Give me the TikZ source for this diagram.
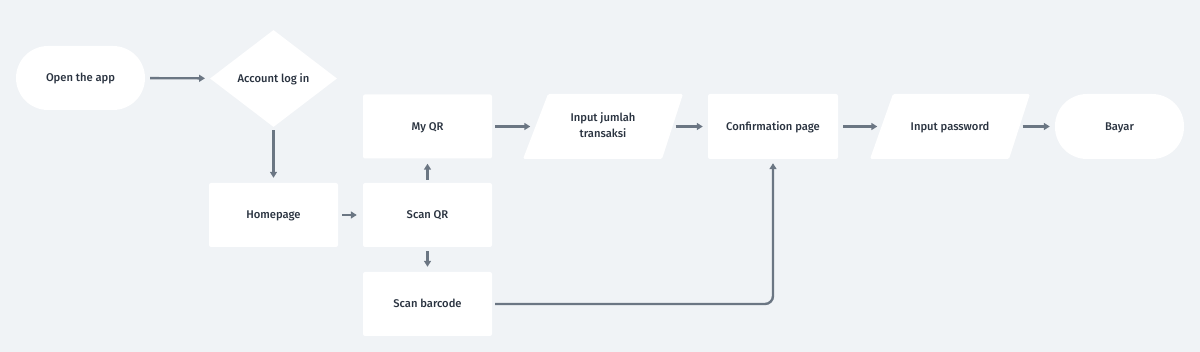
\documentclass[tikz,border=0pt]{standalone}
\usepackage{fontspec}
\setmainfont{Fira Sans}[UprightFont=* Medium]
\usetikzlibrary{shapes.geometric,arrows.meta}
\definecolor{bg}{HTML}{F0F3F6}
\definecolor{arr}{HTML}{6B7683}
\definecolor{txt}{HTML}{2A3340}
\tikzset{
  box/.style={fill=white,rounded corners=2pt,minimum width=129pt,minimum height=64pt,inner sep=0pt,text=txt,text height=9pt,text depth=1pt,font=\fontsize{11.2}{13}\selectfont},
  term/.style={box,rounded corners=32pt},
  dec/.style={diamond,fill=white,minimum width=127pt,minimum height=97pt,inner sep=0pt,aspect=1.31,text=txt,text height=9pt,text depth=1pt,font=\fontsize{11.2}{13}\selectfont},
  io/.style={minimum width=135pt,minimum height=65pt,inner sep=0pt,text=txt,align=center,font=\fontsize{11.2}{16}\selectfont},
  flow/.style={draw=arr,line width=2.4pt,-{Triangle[length=6pt,width=7pt]},shorten >=5pt,shorten <=5pt},
}
\begin{document}
\begin{tikzpicture}[x=1pt,y=-1pt]
\fill[bg] (0,0) rectangle (1200,352);
\useasboundingbox (0,0) rectangle (1200,352);
\node[term] (open) at (80.5,78) {Open the app};
\node[dec] (login) at (273.5,78.5) {Account log in};
\node[box] (home) at (273.5,215) {Homepage};
\node[box] (scanqr) at (427.5,215) {Scan QR};
\node[box] (myqr) at (427.5,126.5) {My QR};
\node[box] (scanbar) at (427.5,304) {Scan barcode};
\node[io] (ij) at (603,126.5) {};
\node[box,minimum width=130pt,minimum height=65pt] (conf) at (773,126.5) {Confirmation page};
\node[io] (ip) at (950,126.5) {};
\node[term,minimum width=129pt,minimum height=65pt] (bayar) at (1119.5,126.5) {Bayar};
% parallelograms
\fill[white,rounded corners=1.5pt] (523,159) -- (662,159) -- (683,94) -- (548,94) -- cycle;
\fill[white,rounded corners=1.5pt] (870,159) -- (1009,159) -- (1030,94) -- (893,94) -- cycle;
\node[io] at ([yshift=1.5pt]ij.center) {Input jumlah\\transaksi};
\node[io,text height=9pt,text depth=1pt] at (ip) {Input password};
% connectors
\draw[flow] (open) -- (login);
\draw[flow,shorten <=3pt] (login) -- (home);
\draw[flow,shorten <=4pt,shorten >=6pt] (home) -- (scanqr);
\draw[flow,shorten <=3pt,shorten >=5pt] (scanqr) -- (myqr);
\draw[flow,shorten <=4pt,shorten >=5pt] (scanqr) -- (scanbar);
\draw[flow,shorten <=3pt] (myqr) -- (ij);
\draw[flow] (ij) -- (conf);
\draw[flow] (conf) -- (ip);
\draw[flow] (ip) -- (bayar);
\draw[flow,rounded corners=8pt,shorten >=4pt,shorten <=3pt] (scanbar.east) -- (conf.south |- scanbar.east) -- (conf.south);
\end{tikzpicture}
\end{document}
